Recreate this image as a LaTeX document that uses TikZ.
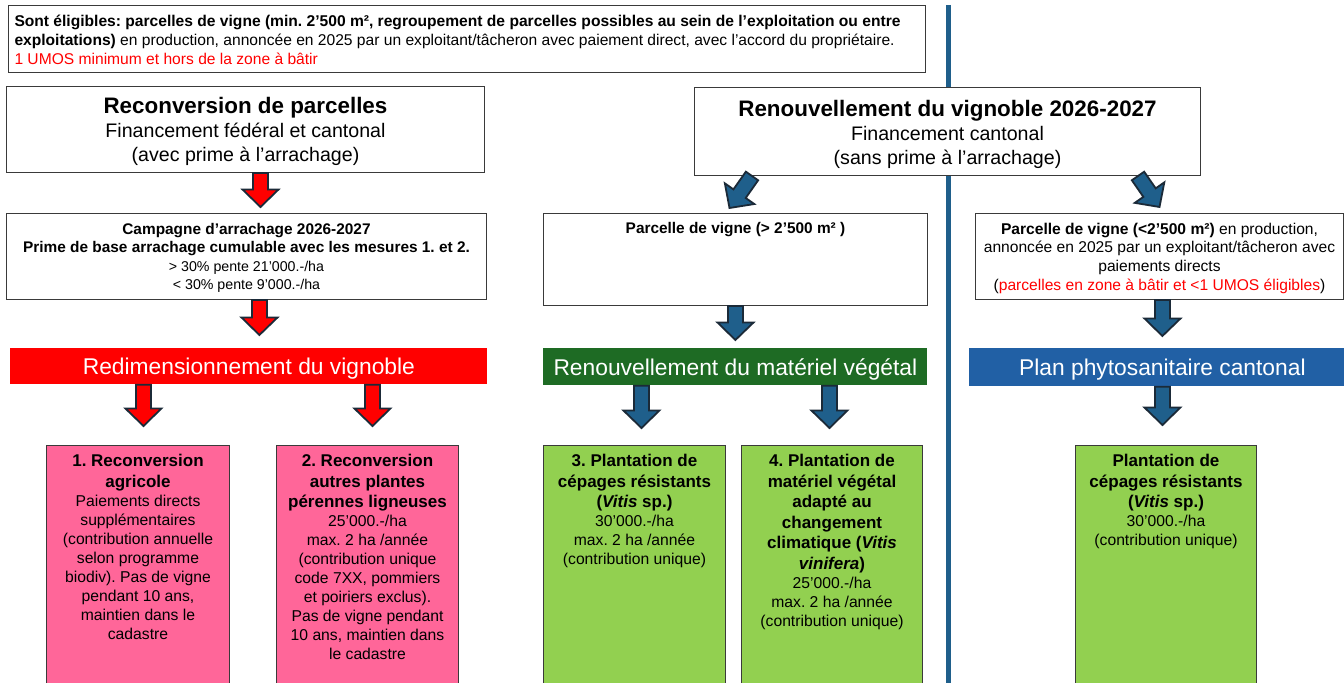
\documentclass[tikz,border=0pt]{standalone}
\usepackage{fontspec}
\setmainfont{Liberation Sans}
\usetikzlibrary{calc}
\frenchspacing

\definecolor{edgegray}{HTML}{3A3A3A}
\definecolor{cutred}{HTML}{FF0000}
\definecolor{pinkfill}{HTML}{FF6699}
\definecolor{leafgreen}{HTML}{92D050}
\definecolor{darkgreen}{HTML}{1E6B24}
\definecolor{barblue}{HTML}{2160A5}
\definecolor{steelblue}{HTML}{1F5F8B}
\definecolor{arrowedge}{HTML}{1B2A38}

\newcommand{\celltext}[3]{\parbox[t][#1][t]{#2}{\centering #3}}
\newcommand{\headfont}{\fontsize{8.5}{10.25}\selectfont\bfseries}
\newcommand{\bodyfont}{\fontsize{7.85}{9.5}\selectfont}

\begin{document}
\begin{tikzpicture}[x=0.5pt, y=-0.5pt]
  \tikzset{
    cell/.style={draw=edgegray, fill=white, line width=0.5pt, inner sep=0pt, anchor=north west},
    bar/.style={fill=#1, anchor=north west, inner sep=0pt, text=white, text depth=0pt,
      font=\fontsize{11.4}{13}\selectfont},
    fatarrow/.style={fill=#1, draw=arrowedge, line width=0.9pt, line join=miter,
      to path={
        ($(\tikztostart)!3.75pt!90:(\tikztotarget)$)
        -- ($($(\tikztotarget)!8.75pt!(\tikztostart)$)!3.75pt!90:(\tikztotarget)$)
        -- ($($(\tikztotarget)!8.75pt!(\tikztostart)$)!9pt!90:(\tikztotarget)$)
        -- (\tikztotarget)
        -- ($($(\tikztotarget)!8.75pt!(\tikztostart)$)!9pt!-90:(\tikztotarget)$)
        -- ($($(\tikztotarget)!8.75pt!(\tikztostart)$)!3.75pt!-90:(\tikztotarget)$)
        -- ($(\tikztostart)!3.75pt!-90:(\tikztotarget)$) -- cycle}},
    divider/.style={draw=steelblue, line width=2.5pt},
  }

  \useasboundingbox (0,0) rectangle (1344,683);
  \fill[white] (0,0) rectangle (1344,683);
  \draw[divider] (948,5) -- (948,683);

  % conditions
  \node[cell, inner xsep=3pt] (elig) at (8,5) {\parbox[t][33.5pt][t]{452.5pt}{\raggedright
    \fontsize{7.8}{9.6}\selectfont\vspace*{4.6pt}%
    \mbox{\textbf{Sont éligibles: parcelles de vigne (min. 2’500 m², regroupement de parcelles possibles au sein de l’exploitation ou entre}}\\
    \mbox{\textbf{exploitations)} en production, annoncée en 2025 par un exploitant/tâcheron avec paiement direct, avec l’accord du propriétaire.}\\
    \textcolor{cutred}{1 UMOS minimum et hors de la zone à bâtir}}};

  % left branch
  \node[cell] (recon) at (6,86) {\celltext{43pt}{239pt}{\vspace*{5.4pt}%
    {\fontsize{11.2}{12}\selectfont\textbf{Reconversion de parcelles}}\\
    \fontsize{9.8}{12}\selectfont Financement fédéral et cantonal\\(avec prime à l’arrachage)}};
  \node[cell] (camp) at (6,213) {\celltext{43pt}{240pt}{\fontsize{7.1}{9.25}\selectfont\vspace*{4.7pt}%
    {\fontsize{7.7}{9.25}\selectfont\bfseries Campagne d’arrachage 2026-2027\\
    Prime de base arrachage cumulable avec les mesures 1. et 2.}\\
    > 30\% pente 21’000.-/ha\\< 30\% pente 9’000.-/ha}};
  \node[bar=cutred, minimum width=238.5pt, minimum height=18pt] (redim) at (10,348) {Redimensionnement du vignoble};
  \node[cell, fill=pinkfill] (agri) at (46,445) {\celltext{125pt}{91.5pt}{\vspace*{4.4pt}%
    {\headfont 1. Reconversion\\agricole\par}
    \bodyfont Paiements directs\\supplémentaires\\(contribution annuelle\\selon programme\\biodiv). Pas de vigne\\pendant 10 ans,\\maintien dans le\\cadastre}};
  \node[cell, fill=pinkfill] (ligneux) at (276,445) {\celltext{125pt}{91pt}{\vspace*{4.4pt}%
    {\headfont 2. Reconversion\\autres plantes\\pérennes ligneuses\par}
    \bodyfont 25’000.-/ha\\max. 2 ha /année\\(contribution unique\\code 7XX, pommiers\\et poiriers exclus).\\Pas de vigne pendant\\10 ans, maintien dans\\le cadastre}};

  % middle and right branches
  \node[cell] (renouv) at (694,87) {\celltext{44pt}{253pt}{\vspace*{6.4pt}%
    {\fontsize{11.2}{12}\selectfont\textbf{Renouvellement du vignoble 2026-2027}}\\
    \fontsize{9.8}{12}\selectfont Financement cantonal\\(sans prime à l’arrachage)}};
  \node[cell] (parc) at (543,213) {\celltext{46pt}{192pt}{\fontsize{7.7}{9.5}\selectfont\vspace*{4.6pt}%
    \textbf{Parcelle de vigne (> 2’500 m² )}}};
  \node[bar=darkgreen, minimum width=192pt, minimum height=18.5pt] (materiel) at (543,348) {Renouvellement du matériel végétal};
  \node[cell, fill=leafgreen] (resist) at (543,445) {\celltext{125pt}{91pt}{\vspace*{4.4pt}%
    {\headfont 3. Plantation de\\cépages résistants\\(\textit{Vitis} sp.)\par}
    \bodyfont 30’000.-/ha\\max. 2 ha /année\\(contribution unique)}};
  \node[cell, fill=leafgreen] (adapte) at (741,445) {\celltext{125pt}{90.5pt}{\vspace*{4.4pt}%
    {\headfont 4. Plantation de\\matériel végétal\\adapté au\\changement\\climatique (\textit{Vitis}\\\textit{vinifera})\par}
    \bodyfont 25’000.-/ha\\max. 2 ha /année\\(contribution unique)}};
  \node[cell] (petite) at (975,213) {\celltext{43pt}{184pt}{\fontsize{7.8}{9.35}\selectfont\vspace*{4.6pt}%
    \textbf{Parcelle de vigne (<2’500 m²)} en production,\\
    \mbox{annoncée en 2025 par un exploitant/tâcheron avec}\\paiements directs\\
    (\textcolor{cutred}{parcelles en zone à bâtir et <1 UMOS éligibles})}};
  \node[bar=barblue, minimum width=193pt, minimum height=19pt] (phyto) at (969,348) {Plan phytosanitaire cantonal};
  \node[cell, fill=leafgreen] (cantonal) at (1075,445) {\celltext{125pt}{90.5pt}{\vspace*{4.4pt}%
    {\headfont Plantation de\\cépages résistants\\(\textit{Vitis} sp.)\par}
    \bodyfont 30’000.-/ha\\(contribution unique)}};

  % arrows
  \draw[fatarrow=cutred] ([xshift=7.5pt]recon.south) to ([xshift=7pt,yshift=3pt]camp.north);
  \draw[fatarrow=cutred] ([xshift=6.5pt]camp.south) to ([xshift=5.25pt,yshift=6.5pt]redim.north);
  \draw[fatarrow=cutred] ([xshift=-52.75pt]redim.south) to ([xshift=2.75pt,yshift=9.5pt]agri.north);
  \draw[fatarrow=cutred] ([xshift=61.75pt]redim.south) to ([xshift=2.5pt,yshift=9.5pt]ligneux.north);

  \draw[fatarrow=steelblue] ([xshift=29pt]renouv.south west) to ([xshift=-3pt,yshift=2.5pt]parc.north);
  \draw[fatarrow=steelblue] ([xshift=-31.5pt]renouv.south east) to ([yshift=3pt]petite.north);
  \draw[fatarrow=steelblue] (parc.south) to ([yshift=4pt]materiel.north);
  \draw[fatarrow=steelblue] ([xshift=-47pt]materiel.south) to ([xshift=3.5pt,yshift=8.5pt]resist.north);
  \draw[fatarrow=steelblue] ([xshift=47pt]materiel.south) to ([xshift=-1.25pt,yshift=8.5pt]adapte.north);
  \draw[fatarrow=steelblue] ([xshift=1.5pt]petite.south) to ([yshift=6pt]phyto.north);
  \draw[fatarrow=steelblue] (phyto.south) to ([xshift=-1.75pt,yshift=10pt]cantonal.north);
\end{tikzpicture}
\end{document}
